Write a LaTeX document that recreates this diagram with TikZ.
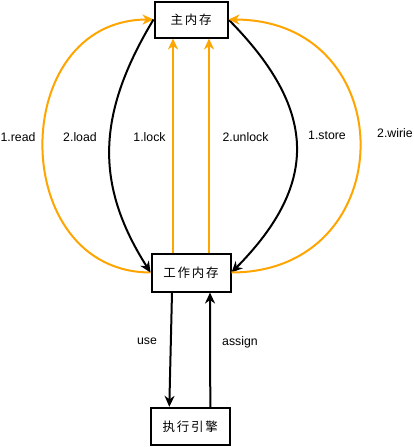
\documentclass[tikz,border=0pt]{standalone}
\usepackage{fontspec}
\setmainfont{Liberation Sans}
\newfontfamily\cjk[LetterSpace=14]{Noto Sans CJK SC}
\usetikzlibrary{arrows.meta}
\definecolor{arrorange}{HTML}{FFA500}
\begin{document}
\begin{tikzpicture}[x=1pt,y=-1pt,
  box/.style={draw=black, line width=2pt, fill=white, inner sep=0pt,
    font=\cjk\fontsize{12.5}{13}\selectfont},
  tipstyle/.style={-{Stealth[length=11pt,width=10pt,inset=3.5pt]}},
  blk/.style={draw=black, line width=2pt, tipstyle},
  org/.style={draw=arrorange, line width=2pt, tipstyle},
  lbl/.style={font=\fontsize{12.3}{14}\selectfont, inner sep=0pt}]
\path[fill=white, use as bounding box] (0,0) rectangle (414,447);

\node[box, minimum width=73pt, minimum height=36pt] (m) at (191,19.5) {主内存};
\node[box, minimum width=79pt, minimum height=38pt] (w) at (191,272.5) {工作内存};
\node[box, minimum width=79pt, minimum height=37pt] (e) at (190.3,426.3) {执行引擎};

% curved transfers
\draw[org] (w.west) .. controls (7,272) and (7,20) .. (m.west);
\draw[blk] (m.west) .. controls (96,115) and (95,185) .. (w.west);
\draw[blk] (m.east) .. controls (316,108) and (321,182) .. (w.east);
\draw[org] (w.east) .. controls (403,272) and (403,20) .. (m.east);

% straight transfers
\draw[org] ([xshift=-18pt]w.north) -- ([xshift=-18pt]m.south);
\draw[org] ([xshift=18pt]w.north) -- ([xshift=18pt]m.south);
\draw[blk] ([xshift=-19pt]w.south) -- ([xshift=-21pt]e.north);
\draw[blk] ([xshift=20pt]e.north) -- ([xshift=19pt]w.south);

% labels
\node[lbl] (lread) at (18,137) {1.read};
\node[lbl] (lload) at (80,137) {2.load};
\node[lbl] (llock) at (149.5,137) {1.lock};
\node[lbl] (lunlock) at (245.5,137) {2.unlock};
\node[lbl] (lstore) at (327,135) {1.store};
\node[lbl] (lwrite) at (395,133) {2.wirie};
\node[lbl] (luse) at (147,341) {use};
\node[lbl] (lassign) at (240,342) {assign};
\end{tikzpicture}
\end{document}
